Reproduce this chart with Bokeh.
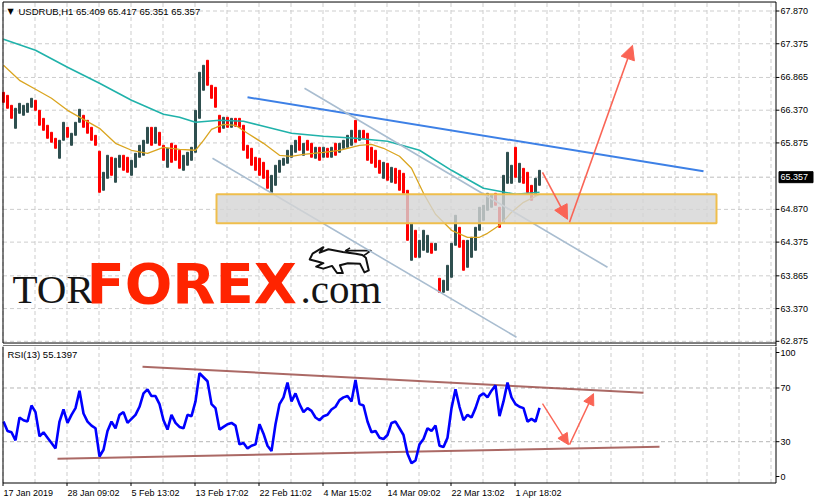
from bokeh.plotting import figure
from bokeh.layouts import column
from bokeh.models import Arrow, NormalHead, ColumnDataSource, Range1d
from bokeh.core.properties import value
from bokeh.embed import file_html
from bokeh.resources import INLINE

# ---------------- data ----------------
SYMBOL = "USDRUB,H1"
LAST_OHLC = ["65.409", "65.417", "65.351", "65.357"]
LAST_PRICE = 65.357
RSI_PERIOD = 13
RSI_LAST = "55.1397"

# H1 candles, grouped (one entry per ~4 hourly bars)
BAR_HIGH = [66.641, 66.595, 66.444, 66.399, 66.474, 66.444, 66.474, 66.550, 66.520, 66.368,
            66.247, 66.142, 66.036, 65.945, 65.915, 66.187, 66.111, 66.021, 66.187, 66.384,
            66.293, 66.217, 66.111, 65.990, 65.750, 65.431, 65.688, 65.658, 65.643, 65.688,
            65.688, 65.658, 65.612, 65.718, 65.839, 65.915, 66.111, 66.111, 66.111, 66.036,
            65.839, 65.794, 65.869, 65.839, 65.764, 65.688, 65.733, 65.809, 66.368, 66.943,
            67.049, 67.125, 66.747, 66.716, 66.293, 66.263, 66.263, 66.247, 66.247, 66.247,
            66.142, 65.839, 65.794, 65.658, 65.643, 65.582, 65.461, 65.385, 65.537, 65.612,
            65.643, 65.764, 65.839, 65.915, 65.975, 65.869, 65.915, 65.869, 65.809, 65.809,
            65.809, 65.794, 65.809, 65.869, 65.869, 65.915, 65.990, 66.066, 66.217, 66.066,
            66.066, 66.021, 65.809, 65.764, 65.612, 65.582, 65.567, 65.506, 65.491, 65.461,
            65.416, 65.159, 64.660, 64.554, 64.402, 64.554, 64.478, 64.357, 64.357, 63.828,
            63.798, 64.024, 64.357, 64.781, 64.599, 64.402, 64.402, 64.448, 64.599, 64.902,
            64.932, 65.113, 65.083, 65.113, 64.902, 65.385, 65.733, 65.537, 65.809, 65.567,
            65.491, 65.431, 65.234, 65.340, 65.461]
BAR_LOW = [66.489, 66.399, 66.247, 66.096, 66.323, 66.293, 66.338, 66.414, 66.368, 66.142,
           66.066, 65.945, 65.885, 65.794, 65.643, 65.915, 65.960, 65.839, 65.990, 66.187,
           66.111, 66.021, 65.915, 65.839, 65.128, 65.159, 65.340, 65.385, 65.280, 65.506,
           65.461, 65.431, 65.385, 65.506, 65.658, 65.688, 65.869, 65.839, 65.869, 65.839,
           65.612, 65.506, 65.582, 65.612, 65.491, 65.461, 65.537, 65.612, 65.733, 66.247,
           66.671, 66.747, 66.550, 66.414, 66.036, 66.096, 66.111, 66.111, 66.127, 66.111,
           65.764, 65.643, 65.537, 65.461, 65.385, 65.340, 65.189, 65.128, 65.234, 65.431,
           65.537, 65.567, 65.658, 65.733, 65.764, 65.688, 65.764, 65.658, 65.643, 65.612,
           65.658, 65.658, 65.658, 65.688, 65.733, 65.794, 65.809, 65.839, 65.885, 65.915,
           65.945, 65.612, 65.567, 65.506, 65.416, 65.340, 65.310, 65.280, 65.264, 65.159,
           65.113, 64.402, 64.100, 64.145, 64.145, 64.251, 64.221, 64.206, 64.251, 63.616,
           63.616, 63.646, 63.843, 64.327, 64.297, 63.949, 63.994, 64.145, 64.251, 64.554,
           64.705, 64.856, 64.902, 64.932, 64.599, 64.660, 65.264, 65.264, 65.355, 65.280,
           65.264, 65.128, 65.007, 65.083, 65.234]
BAR_CLOSE = [66.520, 66.429, 66.293, 66.368, 66.368, 66.414, 66.459, 66.489, 66.399, 66.187,
             66.111, 65.990, 65.915, 65.824, 65.885, 66.066, 65.990, 65.990, 66.157, 66.247,
             66.157, 66.066, 65.960, 65.869, 65.234, 65.385, 65.537, 65.461, 65.582, 65.612,
             65.537, 65.491, 65.567, 65.688, 65.809, 65.885, 65.990, 65.945, 65.990, 65.869,
             65.688, 65.764, 65.688, 65.643, 65.612, 65.643, 65.688, 65.733, 66.293, 66.822,
             66.973, 66.792, 66.641, 66.444, 66.187, 66.217, 66.157, 66.202, 66.172, 66.127,
             65.794, 65.688, 65.582, 65.537, 65.431, 65.385, 65.234, 65.310, 65.491, 65.582,
             65.612, 65.733, 65.764, 65.839, 65.794, 65.839, 65.794, 65.733, 65.764, 65.688,
             65.764, 65.733, 65.794, 65.764, 65.839, 65.885, 65.915, 66.036, 65.990, 66.036,
             65.960, 65.688, 65.612, 65.582, 65.461, 65.491, 65.385, 65.431, 65.340, 65.234,
             65.159, 64.478, 64.478, 64.251, 64.327, 64.327, 64.357, 64.281, 64.297, 63.677,
             63.752, 63.949, 64.281, 64.478, 64.402, 64.176, 64.327, 64.402, 64.554, 64.826,
             64.886, 65.007, 65.038, 65.007, 64.856, 65.310, 65.461, 65.491, 65.431, 65.461,
             65.385, 65.189, 65.159, 65.310, 65.357]
FIRST_OPEN = 66.550

# moving averages (bar index, price)
MA_SLOW_X = [0, 8, 16, 24, 32, 40, 44, 48, 54, 60, 64, 72, 80, 88, 96, 104, 112, 120, 128, 134]
MA_SLOW = [67.442, 67.276, 67.019, 66.777, 66.520, 66.308, 66.263, 66.187, 66.217, 66.202,
           66.142, 66.021, 65.975, 65.945, 65.900, 65.764, 65.461, 65.189, 65.098, 65.128]
MA_FAST_X = [0, 4, 8, 12, 16, 20, 24, 28, 32, 36, 40, 44, 48, 50, 52, 55, 58, 61, 65, 69,
             72, 75, 80, 84, 89, 92, 95, 99, 102, 105, 108, 112, 116, 119, 121, 124, 127, 130, 134]
MA_FAST = [67.049, 66.822, 66.686, 66.550, 66.368, 66.232, 66.096, 65.869, 65.764, 65.718,
           65.809, 65.779, 65.764, 65.915, 66.081, 66.157, 66.142, 66.021, 65.869, 65.688,
           65.673, 65.703, 65.733, 65.764, 65.839, 65.854, 65.794, 65.673, 65.491, 65.113,
           64.796, 64.554, 64.448, 64.448, 64.508, 64.629, 64.826, 64.977, 65.098]

RSI = [45, 38, 37, 31, 48, 46, 45, 57, 52, 34,
       37, 33, 29, 25, 45, 54, 44, 50, 55, 68,
       51, 45, 42, 40, 19, 24, 38, 45, 40, 50,
       52, 44, 47, 50, 56, 66, 69, 64, 64, 58,
       46, 39, 50, 44, 41, 40, 50, 49, 60, 81,
       78, 75, 58, 55, 39, 41, 43, 44, 42, 28,
       29, 25, 27, 28, 43, 36, 27, 23, 43, 58,
       63, 74, 60, 66, 58, 52, 55, 53, 48, 46,
       49, 50, 54, 56, 61, 63, 64, 60, 76, 58,
       57, 45, 37, 38, 33, 32, 35, 44, 45, 40,
       35, 21, 14, 16, 28, 32, 40, 38, 42, 27,
       26, 33, 55, 69, 56, 46, 50, 48, 55, 64,
       66, 63, 68, 72, 49, 60, 74, 63, 58, 56,
       55, 45, 47, 45, 55.14]

# axis ticks / labels
PRICE_TICKS = [62.875, 63.370, 63.865, 64.375, 64.870, 65.875, 66.370, 66.865, 67.375, 67.870]
RSI_TICK_POS = [4.07, 30, 70, 96.44]      # MT4 pulls the 0/100 labels inside the pane
RSI_TICK_LABELS = ["0", "30", "70", "100"]
RSI_LEVELS = [30, 70]
TIME_TICK_BARS = [0, 16, 32, 48, 64, 80, 96, 112, 128]
TIME_LABELS = ["17 Jan 2019", "28 Jan 09:02", "5 Feb 13:02", "13 Feb 17:02", "22 Feb 11:02",
               "4 Mar 15:02", "14 Mar 09:02", "22 Mar 13:02", "1 Apr 18:02"]
GRID_BARS = list(range(0, 193, 8))

# pane extents (bar index / price / RSI units)
BAR_VIEW = (-0.75, 203.0)
PRICE_VIEW = (62.7964, 68.029)
RSI_VIEW = (-16.04, 100.91)
PANE_LEFT, PANE_RIGHT = -0.125, 193.125
MAIN_TOP, MAIN_BOTTOM = 68.006, 62.849
RSI_TOP_IN_PRICE = 62.804          # top edge of the RSI pane, drawn on the price canvas
RSI_BOTTOM = -0.77

# drawings (bar index, value)
RESIST_X = [61, 175]
RESIST_Y = [66.565, 65.446]
CHAN_UP_X = [75.25, 151]
CHAN_UP_Y = [66.701, 63.994]
CHAN_LO_X = [52.25, 128.25]
CHAN_LO_Y = [65.643, 62.936]
ZONE_LEFT, ZONE_RIGHT, ZONE_TOP, ZONE_BOTTOM = 53.25, 178.25, 65.098, 64.660
FC_X = [134.75, 141.0, 141.5, 157.25]
FC_Y = [65.431, 64.720, 64.674, 67.351]
RSI_UP_X = [34.75, 160]
RSI_UP_Y = [85.9, 66.5]
RSI_LO_X = [13.5, 164]
RSI_LO_Y = [17.3, 26.3]
RSI_FC_X = [134.75, 141.25, 141.5, 147.5]
RSI_FC_Y = [58.3, 27.8, 27.8, 65.8]

# watermark (bar index, price of text middle)
LOGO_Y_SERIF = 63.671
LOGO_Y_BOLD = 63.755
# bull emblem: box in bar/price units, outline in unit coordinates (u right, v up)
BULL_BOX = (74.75, 92.75, 63.825, 64.339)
BULL_BODY_U = [0.10, 0.14, 0.29, 0.24, 0.36, 0.56, 0.74, 0.83, 0.88, 0.92, 0.86, 0.80, 0.63,
               0.52, 0.56, 0.48, 0.41, 0.29, 0.19, 0.29, 0.22]
BULL_BODY_V = [0.56, 0.73, 0.92, 0.76, 0.86, 0.78, 0.73, 0.69, 0.61, 0.24, 0.18, 0.43, 0.45,
               0.39, 0.16, 0.16, 0.37, 0.29, 0.35, 0.45, 0.49]
BULL_TAIL_U = [[0.85, 0.95, 0.60], [0.66, 0.60, 0.66]]
BULL_TAIL_V = [[0.67, 0.82, 0.82], [0.90, 0.82, 0.74]]

# ---------------- styling ----------------
FONT = "Liberation Sans"
AX_FS = "9px"
HD_FS = "9.5px"
GRID_COLOR = "#cdcdcd"
GRID_DASH = "4 3"
BULL = "#2f4f4f"
BEAR = "#ff0000"
ARROW_RED = "#fa6455"
LABEL_X = PANE_RIGHT + 1.15          # price-scale labels, right of the pane border
TICK_LEN = 0.85                      # tick mark length in bar units
HALF_PX = 0.125                      # half a pixel in bar units (crisp 1px lines)

XR = Range1d(*BAR_VIEW)


def make_fig(height, yr):
    f = figure(width=815, height=height, x_range=XR, y_range=Range1d(*yr),
               output_backend="svg", toolbar_location=None, tools="",
               x_axis_location=None, y_axis_location=None,
               min_border=0, min_border_left=0, min_border_right=0,
               min_border_top=0, min_border_bottom=0,
               background_fill_color="white", border_fill_color="white")
    f.outline_line_color = None
    for g in f.grid:
        g.visible = False
    return f


def txt(f, x, y, s, size=AX_FS, color="black", align="left", font=FONT, style="normal"):
    f.text(x=[x], y=[y], text=[s], text_font=value(font), text_font_size=size,
           text_color=color, text_align=align, text_baseline="middle",
           text_font_style=style)


def box_map(us, vs):
    x0, x1, y0, y1 = BULL_BOX
    return [x0 + u * (x1 - x0) for u in us], [y0 + v * (y1 - y0) for v in vs]


p1 = make_fig(346, PRICE_VIEW)
p2 = make_fig(157, RSI_VIEW)

# ---------------- main pane ----------------
gx = [b - HALF_PX for b in GRID_BARS]
p1.segment(x0=gx, y0=[MAIN_BOTTOM] * len(gx), x1=gx, y1=[MAIN_TOP] * len(gx),
           line_color=GRID_COLOR, line_dash=GRID_DASH, line_width=1)
p1.segment(x0=[PANE_LEFT] * len(PRICE_TICKS), y0=PRICE_TICKS,
           x1=[PANE_RIGHT] * len(PRICE_TICKS), y1=PRICE_TICKS,
           line_color=GRID_COLOR, line_dash=GRID_DASH, line_width=1)
p1.segment(x0=[PANE_LEFT], y0=[LAST_PRICE], x1=[PANE_RIGHT], y1=[LAST_PRICE],
           line_color="#bdbdbd", line_dash=GRID_DASH, line_width=1)

# watermark logo
txt(p1, 2.25, LOGO_Y_SERIF, "TOR", size="41px", color="#151515", font="Liberation Serif")
txt(p1, 20.75, LOGO_Y_BOLD, "FOREX", size="56px", color="#ff2400", font="DejaVu Sans",
    style="bold")
txt(p1, 74.25, LOGO_Y_SERIF, ".com", size="41px", color="#151515", font="Liberation Serif")
bx, by = box_map(BULL_BODY_U, BULL_BODY_V)
p1.patch(bx, by, fill_color="white", line_color="#111111", line_width=2, line_join="round")
for us, vs in zip(BULL_TAIL_U, BULL_TAIL_V):
    tx_, ty_ = box_map(us, vs)
    p1.line(tx_, ty_, line_color="#111111", line_width=1.6, line_join="round")

opens = [FIRST_OPEN] + BAR_CLOSE[:-1]
colors = [BEAR if c < o else BULL for o, c in zip(opens, BAR_CLOSE)]
src = ColumnDataSource(dict(x=list(range(len(BAR_HIGH))), top=BAR_HIGH, bottom=BAR_LOW,
                            color=colors))
p1.vbar(x="x", top="top", bottom="bottom", width=0.5, color="color", source=src)

p1.line(MA_SLOW_X, MA_SLOW, line_color="#20b2aa", line_width=1.6)
p1.line(MA_FAST_X, MA_FAST, line_color="#daa520", line_width=1.3)

p1.line(RESIST_X, RESIST_Y, line_color="#3d80e6", line_width=2)
p1.line(CHAN_UP_X, CHAN_UP_Y, line_color="#a9bdd0", line_width=1.6)
p1.line(CHAN_LO_X, CHAN_LO_Y, line_color="#a9bdd0", line_width=1.6)

p1.quad(left=[ZONE_LEFT], right=[ZONE_RIGHT], top=[ZONE_TOP], bottom=[ZONE_BOTTOM],
        fill_color="#d4d4d4", fill_alpha=0.8, line_color="#efbe4c", line_width=2)

for i in (0, 2):
    p1.add_layout(Arrow(end=NormalHead(size=14, fill_color=ARROW_RED, line_color=ARROW_RED),
                        x_start=FC_X[i], y_start=FC_Y[i], x_end=FC_X[i + 1], y_end=FC_Y[i + 1],
                        line_color=ARROW_RED, line_width=1.6))

# pane borders (price pane, plus the top edge of the RSI pane)
p1.multi_line(xs=[[PANE_LEFT, PANE_LEFT, PANE_RIGHT], [PANE_LEFT, PANE_RIGHT],
                  [PANE_RIGHT, PANE_RIGHT], [PANE_LEFT, PANE_LEFT, PANE_RIGHT]],
              ys=[[MAIN_BOTTOM, MAIN_TOP, MAIN_TOP], [MAIN_BOTTOM, MAIN_BOTTOM],
                  [MAIN_TOP, PRICE_VIEW[0]],
                  [PRICE_VIEW[0], RSI_TOP_IN_PRICE, RSI_TOP_IN_PRICE]],
              line_color="black", line_width=1)

# price scale
p1.segment(x0=[PANE_RIGHT] * len(PRICE_TICKS), y0=PRICE_TICKS,
           x1=[PANE_RIGHT + TICK_LEN] * len(PRICE_TICKS), y1=PRICE_TICKS,
           line_color="black", line_width=1)
for t in PRICE_TICKS:
    txt(p1, LABEL_X, t, f"{t:.3f}")
p1.rect(x=[LABEL_X + 3.85], y=[LAST_PRICE], width=34, height=11, width_units="screen",
        height_units="screen", fill_color="black", line_color="black")
txt(p1, LABEL_X, LAST_PRICE, f"{LAST_PRICE:.3f}", color="white")

# header
txt(p1, 1.0, 67.870, "▼", size="8px", font="DejaVu Sans")
txt(p1, 3.75, 67.870, SYMBOL + "  " + " ".join(LAST_OHLC), size=HD_FS)

# ---------------- RSI pane ----------------
p2.segment(x0=gx, y0=[RSI_BOTTOM] * len(gx), x1=gx, y1=[RSI_VIEW[1]] * len(gx),
           line_color=GRID_COLOR, line_dash=GRID_DASH, line_width=1)
p2.segment(x0=[PANE_LEFT] * 2, y0=RSI_LEVELS, x1=[PANE_RIGHT] * 2, y1=RSI_LEVELS,
           line_color="#b5b5b5", line_dash=GRID_DASH, line_width=1)

p2.line(RSI_LO_X, RSI_LO_Y, line_color="#9c4f4a", line_width=2, line_alpha=0.85)
p2.line(RSI_UP_X, RSI_UP_Y, line_color="#9c4f4a", line_width=2, line_alpha=0.85)
p2.line(list(range(len(RSI))), RSI, line_color="#0000ff", line_width=2.6)

for i in (0, 2):
    p2.add_layout(Arrow(end=NormalHead(size=11, fill_color=ARROW_RED, line_color=ARROW_RED),
                        x_start=RSI_FC_X[i], y_start=RSI_FC_Y[i], x_end=RSI_FC_X[i + 1],
                        y_end=RSI_FC_Y[i + 1], line_color=ARROW_RED, line_width=1.4))

p2.multi_line(xs=[[PANE_LEFT, PANE_LEFT, PANE_RIGHT, PANE_RIGHT]],
              ys=[[RSI_VIEW[1], RSI_BOTTOM, RSI_BOTTOM, RSI_VIEW[1]]],
              line_color="black", line_width=1)

p2.segment(x0=[PANE_RIGHT] * 4, y0=RSI_TICK_POS, x1=[PANE_RIGHT + TICK_LEN] * 4,
           y1=RSI_TICK_POS, line_color="black", line_width=1)
for t, s in zip(RSI_TICK_POS, RSI_TICK_LABELS):
    txt(p2, LABEL_X, t, s)

txt(p2, 1.0, 94.95, f"RSI({RSI_PERIOD}) {RSI_LAST}", size=HD_FS)

# time scale
tx = [b - HALF_PX for b in TIME_TICK_BARS]
p2.segment(x0=tx, y0=[RSI_BOTTOM] * len(tx), x1=tx, y1=[-3.0] * len(tx),
           line_color="black", line_width=1)
for b, s in zip(TIME_TICK_BARS, TIME_LABELS):
    txt(p2, b, -7.85, s)

layout = column(p1, p2, spacing=0)
open("out.html", "w").write(file_html(layout, INLINE))
